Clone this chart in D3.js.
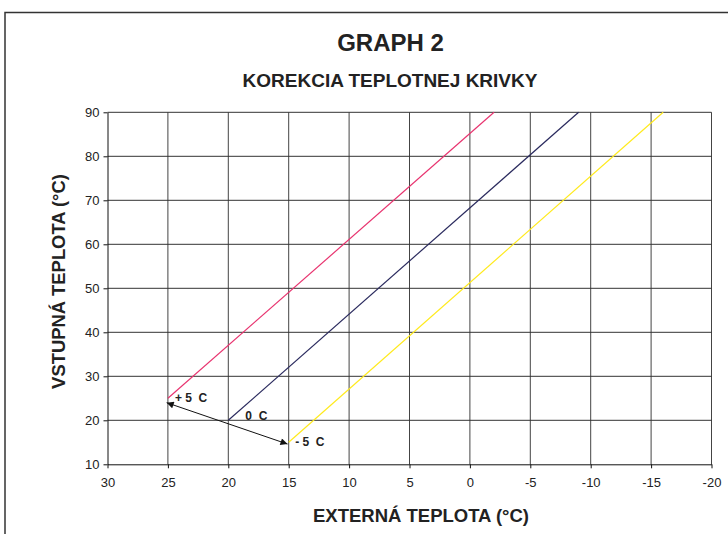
<!DOCTYPE html>
<html>
<head>
<meta charset="utf-8">
<script src="https://cdn.jsdelivr.net/npm/d3@7"></script>
<style>
  html, body { margin: 0; padding: 0; background: #fff; }
  svg { display: block; font-family: "Liberation Sans", Arial, Helvetica, sans-serif; }
</style>
</head>
<body>
<svg id="chart" width="728" height="534"></svg>
<script>
// axis ticks
let xTicks = [30, 25, 20, 15, 10, 5, 0, -5, -10, -15, -20]
let yTicks = [10, 20, 30, 40, 50, 60, 70, 80, 90]

// correction curves: start / end points (external temp, flow temp)
let curveNames = ['+ 5  C', '0  C', '- 5  C']
let curveColors = ['#e8336f', '#2a2a5e', '#ffea1c']
let curveStartX = [25, 20, 15]
let curveStartY = [25, 20, 15]
let curveEndX = [-2, -9, -16]
let curveEndY = [90, 90, 90]

// double arrow between +5 and -5 curves
let arrowX = [25.1, 15.1]
let arrowY = [24.0, 14.6]

let svg = d3.select('#chart')

let x = d3.scaleLinear().domain([30, -20]).range([107.5, 711.5])
let y = d3.scaleLinear().domain([10, 90]).range([464.3, 112.3])

// outer frame (runs off the right and bottom edges)
svg.append('rect')
  .attr('x', 5).attr('y', 12.5)
  .attr('width', 800).attr('height', 600)
  .attr('fill', 'none')
  .attr('stroke', '#333')
  .attr('stroke-width', 1.5)

// titles
svg.append('text')
  .attr('x', 390.5).attr('y', 51)
  .attr('text-anchor', 'middle')
  .attr('font-size', 24).attr('font-weight', 'bold')
  .attr('fill', '#222')
  .text('GRAPH 2')

svg.append('text')
  .attr('x', 390).attr('y', 86.5)
  .attr('text-anchor', 'middle')
  .attr('font-size', 19).attr('font-weight', 'bold')
  .attr('fill', '#222')
  .text('KOREKCIA TEPLOTNEJ KRIVKY')

// grid
let grid = svg.append('g').attr('class', 'grid')
grid.selectAll('line.v')
  .data(xTicks.filter(d => d !== 30))
  .join('line')
  .attr('class', 'v')
  .attr('x1', d => x(d)).attr('x2', d => x(d))
  .attr('y1', y(10)).attr('y2', y(90))
  .attr('stroke', '#444').attr('stroke-width', 1)
grid.selectAll('line.h')
  .data(yTicks.filter(d => d !== 10))
  .join('line')
  .attr('class', 'h')
  .attr('x1', x(30)).attr('x2', x(-20))
  .attr('y1', d => y(d)).attr('y2', d => y(d))
  .attr('stroke', '#333').attr('stroke-width', 1)

// axes (plain hyphen for negatives, like the original)
let fmt = d => String(d)
let xAxis = svg.append('g')
  .attr('transform', `translate(0, ${y(10)})`)
  .call(d3.axisBottom(x).tickValues(xTicks).tickFormat(fmt).tickSize(4).tickPadding(9).tickSizeOuter(0))
let yAxis = svg.append('g')
  .attr('transform', `translate(${x(30)}, 0)`)
  .call(d3.axisLeft(y).tickValues(yTicks).tickFormat(fmt).tickSize(4).tickPadding(4).tickSizeOuter(0))

;[xAxis, yAxis].forEach(a => {
  a.selectAll('path, line').attr('stroke', '#111')
  a.selectAll('text')
    .attr('font-size', 13)
    .attr('font-family', '"Liberation Sans", Arial, sans-serif')
    .attr('fill', '#222')
})

// axis titles
svg.append('text')
  .attr('x', 421).attr('y', 521.5)
  .attr('text-anchor', 'middle')
  .attr('font-size', 18.5).attr('font-weight', 'bold')
  .attr('fill', '#222')
  .text('EXTERNÁ TEPLOTA (°C)')

svg.append('text')
  .attr('transform', 'translate(65, 281.5) rotate(-90)')
  .attr('text-anchor', 'middle')
  .attr('font-size', 18.4).attr('font-weight', 'bold')
  .attr('fill', '#222')
  .text('VSTUPNÁ TEPLOTA (°C)')

// curves
let curves = curveNames.map((name, i) => ({
  name,
  color: curveColors[i],
  pts: [[curveStartX[i], curveStartY[i]], [curveEndX[i], curveEndY[i]]]
}))

let line = d3.line().x(d => x(d[0])).y(d => y(d[1]))

svg.append('g').selectAll('path.curve')
  .data(curves)
  .join('path')
  .attr('class', 'curve')
  .attr('d', d => line(d.pts))
  .attr('fill', 'none')
  .attr('stroke', d => d.color)
  .attr('stroke-width', 1.2)

// arrow
let defs = svg.append('defs')
defs.append('marker')
  .attr('id', 'arrowHead')
  .attr('viewBox', '0 0 10 10')
  .attr('refX', 10).attr('refY', 5)
  .attr('markerUnits', 'userSpaceOnUse')
  .attr('markerWidth', 8).attr('markerHeight', 7)
  .attr('orient', 'auto-start-reverse')
  .append('path')
  .attr('d', 'M0,0 L10,5 L0,10 Z')
  .attr('fill', '#111')

svg.append('path')
  .attr('d', line(arrowX.map((v, i) => [v, arrowY[i]])))
  .attr('stroke', '#111')
  .attr('stroke-width', 1)
  .attr('fill', 'none')
  .attr('marker-start', 'url(#arrowHead)')
  .attr('marker-end', 'url(#arrowHead)')

// curve labels
let labelOffsets = [[7, 3.3], [17, 0], [6.5, 3.6]]
svg.append('g').selectAll('text.lbl')
  .data(curves)
  .join('text')
  .attr('class', 'lbl')
  .attr('x', (d, i) => x(d.pts[0][0]) + labelOffsets[i][0])
  .attr('y', (d, i) => y(d.pts[0][1]) + labelOffsets[i][1])
  .attr('font-size', 12)
  .attr('font-weight', 'bold')
  .attr('fill', '#222')
  .style('white-space', 'pre')
  .text(d => d.name)
</script>
</body>
</html>
